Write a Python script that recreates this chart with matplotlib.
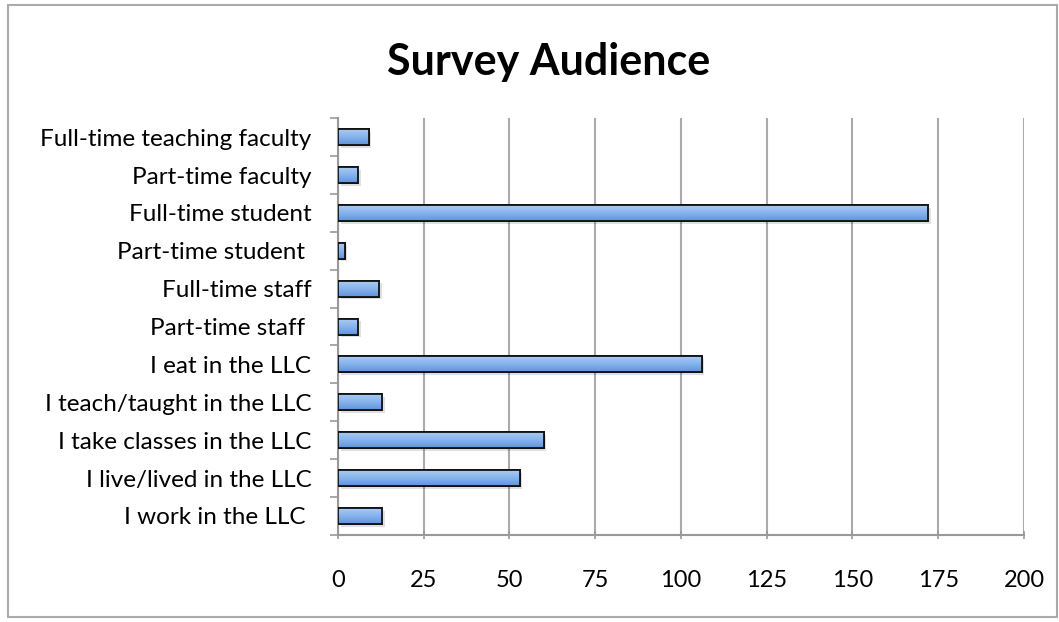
import matplotlib.pyplot as plt
import numpy as np
from matplotlib.colors import LinearSegmentedColormap
from matplotlib.patches import Rectangle

# Survey audience counts (top to bottom as shown)
categories = [
    "Full-time teaching faculty",
    "Part-time faculty",
    "Full-time student",
    "Part-time student ",
    "Full-time staff",
    "Part-time staff ",
    "I eat in the LLC",
    "I teach/taught in the LLC",
    "I take classes in the LLC",
    "I live/lived in the LLC",
    "I work in the LLC ",
]
counts = [9, 6, 172, 2, 12, 6, 106, 13, 60, 53, 13]
xticks = [0, 25, 50, 75, 100, 125, 150, 175, 200]

plt.rcParams['font.family'] = ['Lato', 'DejaVu Sans']

fig = plt.figure(figsize=(10.59, 6.22), dpi=100)
ax = fig.add_axes([0.319, 0.14, 0.648, 0.67])

y = np.arange(len(categories))[::-1]
bars = ax.barh(y, counts, height=0.42, color='#7aaae6', edgecolor='#111111',
               linewidth=1.3, zorder=3)

# vertical gradient inside each bar, plus a soft shadow
cmap = LinearSegmentedColormap.from_list('bar', ['#5e93dc', '#86b3ec', '#a8cbf3'])
grad = np.linspace(0, 1, 64).reshape(-1, 1)
for b in bars:
    x0, y0 = b.get_x(), b.get_y()
    w, h = b.get_width(), b.get_height()
    ax.add_patch(Rectangle((x0 + 0.8, y0 - 0.07), w, h, color='#000000', alpha=0.12,
                           linewidth=0, zorder=2.5))
    im = ax.imshow(grad, cmap=cmap, aspect='auto', extent=[x0, x0 + w, y0, y0 + h],
                   origin='lower', zorder=3.5)
    im.set_clip_path(b)
    ax.add_patch(Rectangle((x0, y0), w, h, fill=False, edgecolor='#111111',
                           linewidth=1.3, zorder=4))

ax.set_xlim(0, 200)
ax.set_ylim(-0.5, len(categories) - 0.5)
ax.set_xticks(xticks)
ax.set_yticks(y)
ax.set_yticklabels(categories)
ax.set_yticks(np.arange(len(categories) + 1) - 0.5, minor=True)
ax.tick_params(axis='y', which='major', length=0, pad=19, labelsize=17.5)
ax.tick_params(axis='y', which='minor', length=6, color='#999999', width=1.2, direction='out')
ax.tick_params(axis='x', length=6, color='#999999', width=1.2, direction='inout',
               pad=22, labelsize=17)
ax.grid(axis='x', color='#aaaaaa', linewidth=1.5, zorder=0)
for s in ['top', 'right']:
    ax.spines[s].set_visible(False)
for s in ['left', 'bottom']:
    ax.spines[s].set_color('#999999')
    ax.spines[s].set_linewidth(1.5)

fig.text(0.518, 0.9, "Survey Audience", ha='center', va='center', fontsize=31,
         fontweight='bold')

fig.patches.append(Rectangle((0.008, 0.008), 0.99, 0.984, transform=fig.transFigure,
                             fill=False, edgecolor='#aaaaaa', linewidth=1.5))

fig.savefig('out.png', dpi=100)
